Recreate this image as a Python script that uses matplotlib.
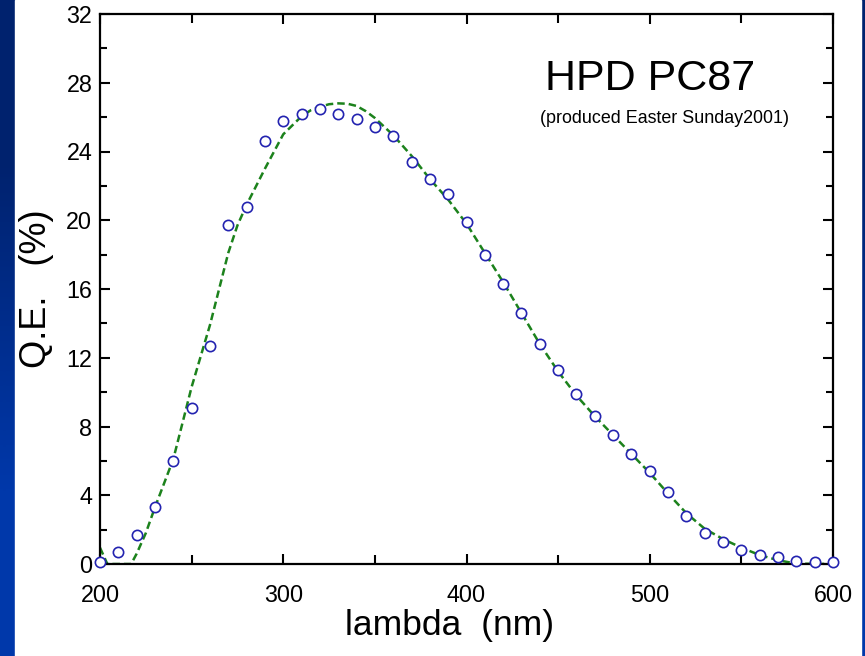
import matplotlib.pyplot as plt
import numpy as np
from matplotlib.ticker import MultipleLocator
from matplotlib.patches import Rectangle
from matplotlib.colors import LinearSegmentedColormap

plt.rcParams['font.family'] = ['Liberation Sans', 'DejaVu Sans']

# measured points, every 10 nm
wavelength = list(range(200, 601, 10))
qe_measured = [0.1, 0.7, 1.7, 3.3, 6.0, 9.1, 12.7, 19.7, 20.8, 24.6,
               25.8, 26.2, 26.5, 26.2, 25.9, 25.4, 24.9, 23.4, 22.4, 21.5,
               19.9, 18.0, 16.3, 14.6, 12.8, 11.3, 9.9, 8.6, 7.5, 6.4,
               5.4, 4.2, 2.8, 1.8, 1.3, 0.8, 0.5, 0.4, 0.2, 0.1, 0.1]

# fitted curve (dashed line)
fit_wavelength = [200, 204, 217, 220, 225, 230, 240, 245, 250, 255, 260, 265, 270, 275,
                  280, 285, 290, 300, 310, 315, 320, 325, 330, 335, 340, 345, 350, 360,
                  370, 380, 390, 400, 410, 420, 430, 440, 450, 460, 470, 480, 490, 500,
                  510, 520, 530, 540, 550, 560, 570, 580, 600]
fit_qe = [0.95, 0.0, 0.0, 0.6, 1.8, 3.3, 6.1, 8.2, 10.3, 12.1, 13.9, 16.0, 18.1, 19.7,
          20.9, 21.95, 23.0, 25.0, 26.05, 26.4, 26.6, 26.75, 26.8, 26.78, 26.65, 26.35, 25.95, 24.95,
          23.75, 22.4, 21.2, 19.8, 18.1, 16.4, 14.6, 12.8, 11.2, 9.8, 8.6, 7.5, 6.4, 5.3,
          4.1, 2.95, 2.05, 1.45, 0.95, 0.52, 0.22, 0.02, 0.0]

W, H = 865, 656
fig = plt.figure(figsize=(W / 100, H / 100), dpi=100)

# slide background: blue gradient with a white panel
bg = fig.add_axes([0, 0, 1, 1], zorder=-5)
blues = LinearSegmentedColormap.from_list('slide', ['#00226e', '#0038aa'])
bg.imshow(np.array([[0.0], [1.0]]), cmap=blues, aspect='auto',
          extent=[0, 1, 0, 1], interpolation='bilinear')
bg.add_patch(Rectangle((15 / W, 0), 846 / W, 1, color='white'))
bg.set_xlim(0, 1)
bg.set_ylim(0, 1)
bg.set_axis_off()

ax = fig.add_axes([100 / W, 1 - 564 / H, 733 / W, 550 / H])
ax.set_facecolor('white')

ax.plot(fit_wavelength, fit_qe, color='#1c821c', lw=1.8, ls=(0, (3, 1.6)), zorder=2)
ax.plot(wavelength, qe_measured, 'o', mfc='white', mec='#2323b0', mew=1.2, ms=7.4,
        clip_on=False, zorder=3)

ax.set_xlim(200, 600)
ax.set_ylim(0, 32)
ax.xaxis.set_major_locator(MultipleLocator(100))
ax.xaxis.set_minor_locator(MultipleLocator(50))
ax.yaxis.set_major_locator(MultipleLocator(4))
ax.yaxis.set_minor_locator(MultipleLocator(2))

for s in ax.spines.values():
    s.set_linewidth(1.6)
ax.tick_params(which='both', direction='in', top=True, right=True, width=1.5, labelsize=16.8)
ax.tick_params(which='major', length=7)
ax.tick_params(which='minor', length=5)
ax.tick_params(axis='x', which='minor', length=6.5)
ax.tick_params(axis='x', pad=14.5)
ax.tick_params(axis='y', pad=5.5)

ax.set_xlabel('lambda  (nm)', fontsize=25.5, va='baseline')
ax.xaxis.set_label_coords((450 - 100) / 733, (564 - 635) / 550)
ax.set_ylabel('Q.E.   (%)', fontsize=26, va='baseline')
ax.yaxis.set_label_coords((46 - 100) / 733, 0.5)

ax.text(545 / W, 1 - 90 / H, 'HPD PC87', transform=fig.transFigure, fontsize=31,
        ha='left', va='baseline')
ax.text(540 / W, 1 - 123 / H, '(produced Easter Sunday2001)', transform=fig.transFigure,
        fontsize=12.9, ha='left', va='baseline')

fig.savefig('out.png', dpi=100)
